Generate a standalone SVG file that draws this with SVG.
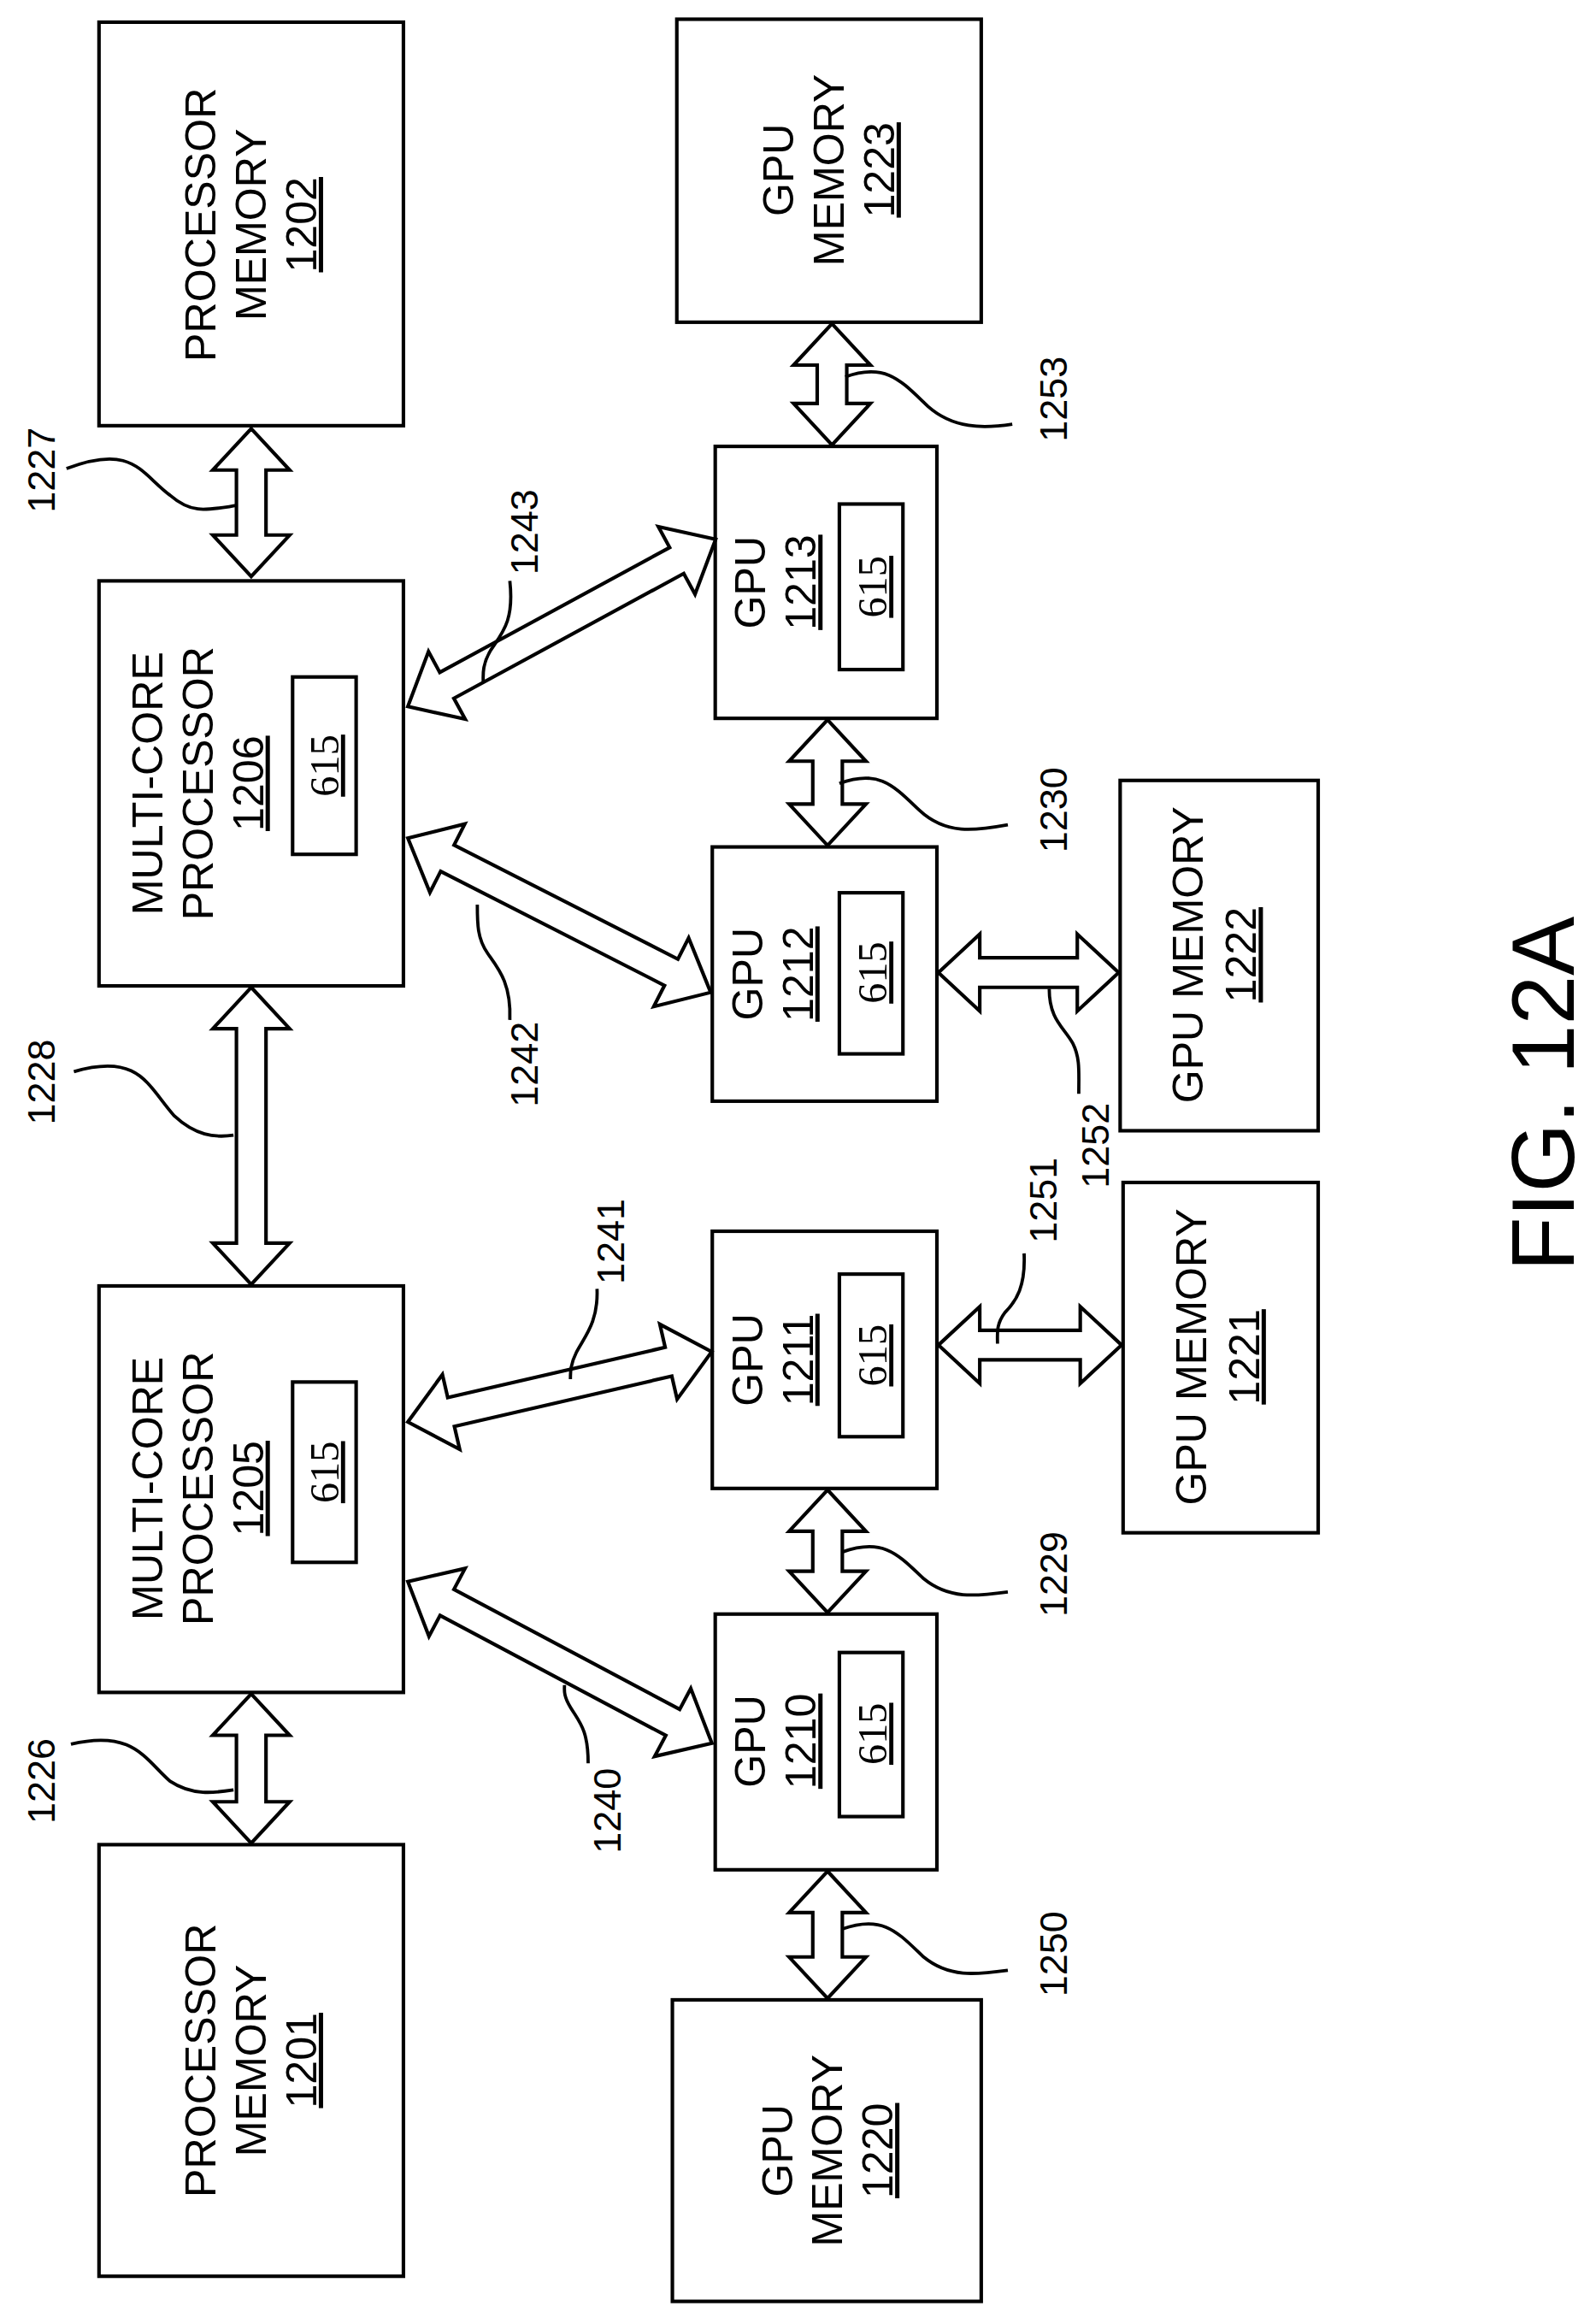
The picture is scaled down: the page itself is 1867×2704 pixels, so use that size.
<svg xmlns="http://www.w3.org/2000/svg" width="1867" height="2704" viewBox="0 0 1867 2704">
<defs>
<style>
.b{fill:#fff;stroke:#000;stroke-width:2.4}
.a{fill:#fff;stroke:#000;stroke-width:2.4;stroke-linejoin:miter}
.l{fill:none;stroke:#000;stroke-width:2.2}
.t{font-family:"Liberation Sans",Arial,sans-serif;font-size:29px;fill:#000;text-anchor:middle}
.n{font-family:"Liberation Sans",Arial,sans-serif;font-size:26px;fill:#000;text-anchor:middle}
.s{font-family:"Liberation Serif","Times New Roman",serif;font-size:28px;fill:#000;text-anchor:middle}
</style>
</defs>
<rect width="1867" height="2704" fill="#fff"/>
<g transform="scale(1.7287)">
<g id="mem1202"><rect class="b" x="67" y="15" width="206" height="273"/><text class="t" transform="translate(170,152) rotate(-90)"><tspan x="0" y="-24">PROCESSOR</tspan><tspan x="0" y="10">MEMORY</tspan><tspan x="0" y="44" text-decoration="underline">1202</tspan></text></g>
<g id="mem1201"><rect class="b" x="67" y="1248" width="206" height="292"/><text class="t" transform="translate(170,1394) rotate(-90)"><tspan x="0" y="-24">PROCESSOR</tspan><tspan x="0" y="10">MEMORY</tspan><tspan x="0" y="44" text-decoration="underline">1201</tspan></text></g>
<g id="mcp1206"><rect class="b" x="67" y="393" width="206" height="274"/><text class="t" transform="translate(122,530) rotate(-90)"><tspan x="0" y="-12">MULTI-CORE</tspan><tspan x="0" y="22">PROCESSOR</tspan><tspan x="0" y="56" text-decoration="underline">1206</tspan></text><rect class="b" x="198" y="458" width="43" height="120"/><text class="s" transform="translate(229,518) rotate(-90)" text-decoration="underline">615</text></g>
<g id="mcp1205"><rect class="b" x="67" y="870" width="206" height="275"/><text class="t" transform="translate(122,1007) rotate(-90)"><tspan x="0" y="-12">MULTI-CORE</tspan><tspan x="0" y="22">PROCESSOR</tspan><tspan x="0" y="56" text-decoration="underline">1205</tspan></text><rect class="b" x="198" y="935" width="43" height="122"/><text class="s" transform="translate(229,996) rotate(-90)" text-decoration="underline">615</text></g>
<g id="mem1223"><rect class="b" x="458" y="13" width="206" height="205"/><text class="t" transform="translate(561,115) rotate(-90)"><tspan x="0" y="-24">GPU</tspan><tspan x="0" y="10">MEMORY</tspan><tspan x="0" y="44" text-decoration="underline">1223</tspan></text></g>
<g id="gpu1213"><rect class="b" x="484" y="302" width="150" height="184"/><text class="t" transform="translate(518,394) rotate(-90)"><tspan x="0" y="0">GPU</tspan><tspan x="0" y="34" text-decoration="underline">1213</tspan></text><rect class="b" x="568" y="341" width="43" height="112"/><text class="s" transform="translate(600,397) rotate(-90)" text-decoration="underline">615</text></g>
<g id="gpu1212"><rect class="b" x="482" y="573" width="152" height="172"/><text class="t" transform="translate(516,659) rotate(-90)"><tspan x="0" y="0">GPU</tspan><tspan x="0" y="34" text-decoration="underline">1212</tspan></text><rect class="b" x="568" y="604" width="43" height="109"/><text class="s" transform="translate(600,658) rotate(-90)" text-decoration="underline">615</text></g>
<g id="gpu1211"><rect class="b" x="482" y="833" width="152" height="174"/><text class="t" transform="translate(516,920) rotate(-90)"><tspan x="0" y="0">GPU</tspan><tspan x="0" y="34" text-decoration="underline">1211</tspan></text><rect class="b" x="568" y="862" width="43" height="110"/><text class="s" transform="translate(600,917) rotate(-90)" text-decoration="underline">615</text></g>
<g id="gpu1210"><rect class="b" x="484" y="1092" width="150" height="173"/><text class="t" transform="translate(518,1178) rotate(-90)"><tspan x="0" y="0">GPU</tspan><tspan x="0" y="34" text-decoration="underline">1210</tspan></text><rect class="b" x="568" y="1118" width="43" height="111"/><text class="s" transform="translate(600,1173) rotate(-90)" text-decoration="underline">615</text></g>
<g id="mem1222"><rect class="b" x="758" y="528" width="134" height="237"/><text class="t" transform="translate(814,646) rotate(-90)"><tspan x="0" y="0">GPU MEMORY</tspan><tspan x="0" y="36" text-decoration="underline">1222</tspan></text></g>
<g id="mem1221"><rect class="b" x="760" y="800" width="132" height="237"/><text class="t" transform="translate(816,918) rotate(-90)"><tspan x="0" y="0">GPU MEMORY</tspan><tspan x="0" y="36" text-decoration="underline">1221</tspan></text></g>
<g id="mem1220"><rect class="b" x="455" y="1353" width="209" height="204"/><text class="t" transform="translate(560,1455) rotate(-90)"><tspan x="0" y="-24">GPU</tspan><tspan x="0" y="10">MEMORY</tspan><tspan x="0" y="44" text-decoration="underline">1220</tspan></text></g>
<g id="connectors">
<polygon class="a" transform="translate(170,290) rotate(90)" points="0,0 28,-26 28,-10 72,-10 72,-26 100,0 72,26 72,10 28,10 28,26"/>
<polygon class="a" transform="translate(170,668) rotate(90)" points="0,0 28,-26 28,-10 173,-10 173,-26 201,0 173,26 173,10 28,10 28,26"/>
<polygon class="a" transform="translate(170,1146) rotate(90)" points="0,0 28,-26 28,-10 73,-10 73,-26 101,0 73,26 73,10 28,10 28,26"/>
<polygon class="a" transform="translate(563,219) rotate(90)" points="0,0 28,-26 28,-10 54,-10 54,-26 82,0 54,26 54,10 28,10 28,26"/>
<polygon class="a" transform="translate(560,487) rotate(90)" points="0,0 28,-26 28,-10 57,-10 57,-26 85,0 57,26 57,10 28,10 28,26"/>
<polygon class="a" transform="translate(560,1008) rotate(90)" points="0,0 28,-26 28,-10 55,-10 55,-26 83,0 55,26 55,10 28,10 28,26"/>
<polygon class="a" transform="translate(560,1266) rotate(90)" points="0,0 28,-26 28,-10 58,-10 58,-26 86,0 58,26 58,10 28,10 28,26"/>
<polygon class="a" transform="translate(635,658)" points="0,0 28,-26 28,-10 94,-10 94,-26 122,0 94,26 94,10 28,10 28,26"/>
<polygon class="a" transform="translate(635,910)" points="0,0 28,-26 28,-10 96,-10 96,-26 124,0 96,26 96,10 28,10 28,26"/>
<polygon class="a" transform="translate(276,478) rotate(-28.5)" points="0,0 30,-26 30,-10 207,-10 207,-26 237,0 207,26 207,10 30,10 30,26"/>
<polygon class="a" transform="translate(276,567) rotate(27)" points="0,0 30,-26 30,-10 200,-10 200,-26 230,0 200,26 200,10 30,10 30,26"/>
<polygon class="a" transform="translate(276,962) rotate(-13)" points="0,0 30,-26 30,-10 181,-10 181,-26 211,0 181,26 181,10 30,10 30,26"/>
<polygon class="a" transform="translate(276,1070) rotate(28)" points="0,0 30,-26 30,-10 203,-10 203,-26 233,0 203,26 203,10 30,10 30,26"/>
<path class="l" d="M45,317 C90,300 95,320 115,335 C130,348 140,345 160,342"/>
<path class="l" d="M50,725 C95,712 100,735 118,755 C132,768 145,770 158,768"/>
<path class="l" d="M48,1180 C90,1170 98,1190 115,1205 C130,1215 145,1213 158,1211"/>
<path class="l" d="M345,393 C348,420 340,428 332,440 C326,450 327,457 327,462"/>
<path class="l" d="M345,690 C346,665 337,655 330,645 C323,635 323,625 323,612"/>
<path class="l" d="M404,872 C405,895 395,905 390,915 C386,923 386,928 386,933"/>
<path class="l" d="M398,1193 C398,1170 392,1165 386,1155 C381,1147 382,1143 382,1140"/>
<path class="l" d="M572,255 C600,245 610,258 628,275 C645,290 665,290 685,287"/>
<path class="l" d="M568,530 C595,520 605,532 622,548 C640,565 660,562 682,558"/>
<path class="l" d="M570,1050 C598,1040 608,1052 625,1068 C642,1082 660,1080 682,1077"/>
<path class="l" d="M570,1305 C598,1295 608,1308 625,1324 C642,1338 660,1336 682,1333"/>
<path class="l" d="M710,669 C710,690 720,695 726,706 C731,716 730,725 730,740"/>
<path class="l" d="M693,848 C694,870 688,880 680,888 C674,896 675,902 675,909"/>
</g>
<g id="labels">
<text class="n" transform="translate(37,318) rotate(-90)">1227</text>
<text class="n" transform="translate(37,732) rotate(-90)">1228</text>
<text class="n" transform="translate(37,1205) rotate(-90)">1226</text>
<text class="n" transform="translate(364,360) rotate(-90)">1243</text>
<text class="n" transform="translate(364,720) rotate(-90)">1242</text>
<text class="n" transform="translate(422,840) rotate(-90)">1241</text>
<text class="n" transform="translate(420,1225) rotate(-90)">1240</text>
<text class="n" transform="translate(722,270) rotate(-90)">1253</text>
<text class="n" transform="translate(722,548) rotate(-90)">1230</text>
<text class="n" transform="translate(722,1065) rotate(-90)">1229</text>
<text class="n" transform="translate(722,1322) rotate(-90)">1250</text>
<text class="n" transform="translate(750,775) rotate(-90)">1252</text>
<text class="n" transform="translate(715,812) rotate(-90)">1251</text>
<text class="n" transform="translate(1065,740) rotate(-90)" style="font-size:60px">FIG. 12A</text>
</g>
</g>
</svg>
